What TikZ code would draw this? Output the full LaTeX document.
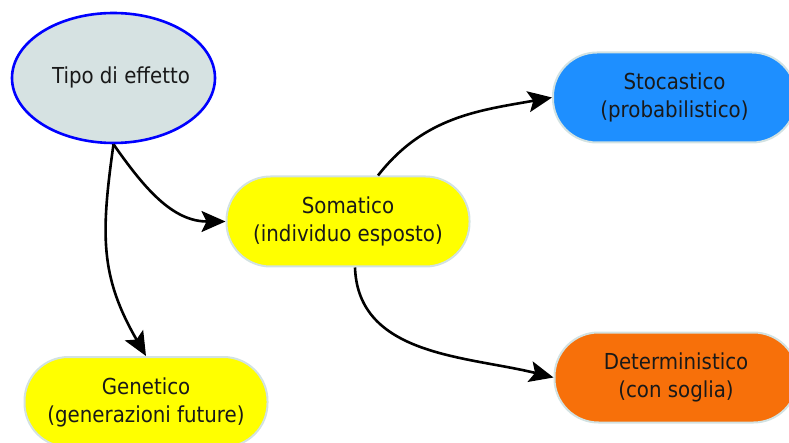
\documentclass[tikz,border=0pt]{standalone}
\usepackage{fontspec}
\setmainfont{DejaVu Sans Condensed}
\usetikzlibrary{shapes.geometric,arrows.meta}
\definecolor{ellfill}{HTML}{D6E2E2}
\definecolor{boxline}{HTML}{D2E2E2}
\definecolor{yel}{HTML}{FFFF00}
\definecolor{blu}{HTML}{1E8FFF}
\definecolor{ora}{HTML}{F7700A}
\begin{document}
\begin{tikzpicture}[x=1pt,y=-1pt,
  pill/.style={draw=boxline,line width=2pt,rounded corners=44pt,minimum width=243pt,minimum height=90pt,align=center,inner sep=0pt,
    font=\fontsize{22}{28}\selectfont,text=black!90},
  conn/.style={line width=2.6pt,-{Stealth[length=24pt,width=21pt,inset=5pt]}}]
\useasboundingbox (0,0) rectangle (789,443);
\clip (0,0) rectangle (789,443);
\node[ellipse,draw=blue,line width=2.6pt,fill=ellfill,minimum width=203pt,minimum height=130pt,inner sep=0pt] (tipo) at (113.5,78) {};
\node[font=\fontsize{22}{28}\selectfont,text=black!90] (tipotext) at (121,77) {Tipo di effetto};
\node[pill,fill=yel] (som) at (348,221.5) {Somatico\\(individuo esposto)};
\node[pill,fill=blu] (sto) at (674.5,97.5) {Stocastico\\(probabilistico)};
\node[pill,fill=ora] (det) at (676,377.5) {Deterministico\\(con soglia)};
\node[pill,fill=yel] (gen) at (146,402) {Genetico\\(generazioni future)};
\draw[conn] (tipo.south) to[out=-55,in=180] (som.west);
\draw[conn] (tipo.south) to[out=-98,in=120,looseness=1.1] (gen.north);
\draw[conn] ([xshift=30pt]som.north) to[out=52,in=190] (sto.west);
\draw[conn] ([xshift=7pt]som.south) to[out=-88,in=166] (det.west);
\end{tikzpicture}
\end{document}
